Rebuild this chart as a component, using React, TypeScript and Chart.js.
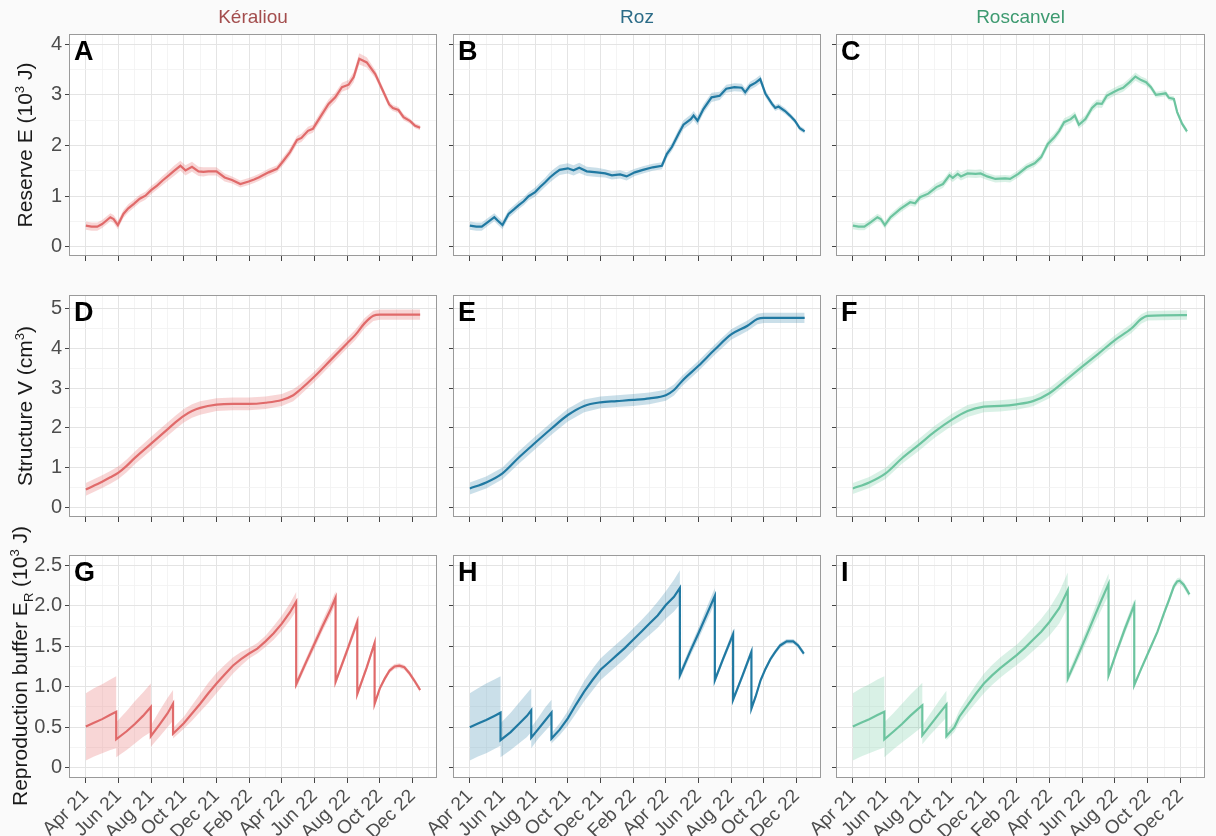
import React, { useEffect, useRef } from "react";
import { Chart, registerables } from "chart.js";
Chart.register(...registerables);

// x values = months since 1 April 2021
const tickMonths = [0, 2, 4, 6, 8, 10, 12, 14, 16, 18, 20];
const tickLabels = ["Apr 21", "Jun 21", "Aug 21", "Oct 21", "Dec 21", "Feb 22", "Apr 22", "Jun 22", "Aug 22", "Oct 22", "Dec 22"];
const sites = ["Kéraliou", "Roz", "Roscanvel"];
const siteLine = ["#e06a6a", "#2079a2", "#6cc49f"];
const siteRibbon = ["rgba(232,120,120,0.3)", "rgba(60,135,175,0.27)", "rgba(110,200,160,0.26)"];
const siteTitle = ["#a34d4d", "#2b6b87", "#3d9a70"];
const panelLetters = ["A", "B", "C", "D", "E", "F", "G", "H", "I"];

// Row 1: reserve E (10^3 J) : [month, mean, half-band]
const reserveKeraliou = [
  [0, 0.42, 0.08], [0.35, 0.40, 0.08], [0.7, 0.40, 0.08], [1.0, 0.45, 0.08], [1.3, 0.53, 0.08], [1.5, 0.585, 0.08],
  [1.7, 0.55, 0.08], [1.96, 0.43, 0.08], [2.3, 0.65, 0.08], [2.6, 0.76, 0.08], [2.94, 0.85, 0.08], [3.3, 0.95, 0.08],
  [3.65, 1.01, 0.08], [4.0, 1.12, 0.08], [4.36, 1.21, 0.08], [4.7, 1.31, 0.09], [5.08, 1.41, 0.09], [5.4, 1.50, 0.1],
  [5.79, 1.60, 0.1], [6.1, 1.51, 0.1], [6.5, 1.58, 0.1], [6.9, 1.49, 0.09], [7.2, 1.48, 0.09], [7.5, 1.49, 0.08],
  [8.0, 1.49, 0.08], [8.5, 1.37, 0.08], [8.95, 1.32, 0.07], [9.46, 1.24, 0.07], [9.97, 1.29, 0.07], [10.3, 1.33, 0.07],
  [10.58, 1.37, 0.07], [11.19, 1.47, 0.07], [11.7, 1.54, 0.07], [12.1, 1.70, 0.08], [12.5, 1.87, 0.08], [12.93, 2.11, 0.08],
  [13.2, 2.15, 0.08], [13.6, 2.29, 0.08], [13.9, 2.33, 0.08], [14.35, 2.56, 0.09], [14.86, 2.82, 0.09], [15.27, 2.95, 0.09],
  [15.68, 3.15, 0.09], [16.09, 3.20, 0.09], [16.4, 3.35, 0.1], [16.74, 3.71, 0.11], [17.2, 3.64, 0.1], [17.72, 3.41, 0.08],
  [18.23, 3.05, 0.07], [18.57, 2.81, 0.07], [18.8, 2.74, 0.06], [19.14, 2.70, 0.06], [19.45, 2.56, 0.06], [19.86, 2.48, 0.05],
  [20.16, 2.39, 0.05], [20.47, 2.35, 0.05],
];
const reserveRoz = [
  [0, 0.42, 0.08], [0.4, 0.40, 0.08], [0.73, 0.40, 0.08], [1.1, 0.49, 0.08], [1.5, 0.585, 0.08], [1.7, 0.52, 0.08],
  [2.0, 0.43, 0.08], [2.37, 0.65, 0.08], [2.7, 0.74, 0.08], [2.98, 0.82, 0.08], [3.3, 0.90, 0.08], [3.6, 1.00, 0.08],
  [4.0, 1.08, 0.09], [4.3, 1.18, 0.09], [4.6, 1.27, 0.09], [4.9, 1.37, 0.1], [5.2, 1.45, 0.1], [5.5, 1.52, 0.1],
  [6.0, 1.55, 0.1], [6.35, 1.51, 0.1], [6.7, 1.56, 0.1], [7.16, 1.49, 0.09], [7.78, 1.47, 0.09], [8.29, 1.45, 0.08],
  [8.7, 1.41, 0.08], [9.2, 1.43, 0.08], [9.6, 1.39, 0.08], [10.1, 1.47, 0.07], [10.6, 1.52, 0.07], [11.2, 1.57, 0.07],
  [11.76, 1.60, 0.07], [12.06, 1.83, 0.08], [12.37, 1.97, 0.08], [12.78, 2.23, 0.09], [13.08, 2.41, 0.09], [13.53, 2.52, 0.09],
  [13.7, 2.59, 0.09], [13.94, 2.49, 0.09], [14.3, 2.72, 0.09], [14.8, 2.95, 0.09], [15.3, 2.98, 0.08], [15.7, 3.12, 0.08],
  [16.2, 3.15, 0.08], [16.65, 3.14, 0.08], [16.86, 3.05, 0.08], [17.16, 3.18, 0.08], [17.5, 3.24, 0.08], [17.78, 3.31, 0.08],
  [18.1, 3.02, 0.07], [18.5, 2.82, 0.06], [18.7, 2.74, 0.06], [18.9, 2.77, 0.06], [19.3, 2.68, 0.06], [19.6, 2.59, 0.05],
  [19.9, 2.49, 0.05], [20.2, 2.34, 0.05], [20.5, 2.28, 0.05],
];
const reserveRoscanvel = [
  [0, 0.42, 0.07], [0.35, 0.40, 0.07], [0.7, 0.40, 0.07], [1.1, 0.49, 0.07], [1.5, 0.585, 0.07], [1.7, 0.55, 0.07],
  [1.95, 0.43, 0.07], [2.3, 0.585, 0.07], [2.9, 0.75, 0.07], [3.5, 0.88, 0.07], [3.8, 0.86, 0.07], [4.1, 0.98, 0.07],
  [4.6, 1.05, 0.07], [5.1, 1.18, 0.08], [5.5, 1.24, 0.08], [5.9, 1.41, 0.08], [6.1, 1.36, 0.08], [6.4, 1.44, 0.08],
  [6.6, 1.39, 0.08], [7.0, 1.45, 0.08], [7.5, 1.44, 0.08], [7.8, 1.45, 0.08], [8.2, 1.39, 0.07], [8.7, 1.34, 0.07],
  [9.3, 1.35, 0.07], [9.6, 1.34, 0.07], [10.1, 1.44, 0.07], [10.6, 1.57, 0.07], [11.1, 1.65, 0.07], [11.5, 1.77, 0.07],
  [11.9, 2.03, 0.08], [12.3, 2.16, 0.08], [12.6, 2.29, 0.08], [12.9, 2.46, 0.08], [13.3, 2.52, 0.08], [13.55, 2.59, 0.08],
  [13.8, 2.41, 0.08], [14.2, 2.52, 0.08], [14.6, 2.74, 0.08], [14.9, 2.83, 0.08], [15.2, 2.82, 0.08], [15.5, 2.98, 0.08],
  [15.9, 3.05, 0.08], [16.2, 3.10, 0.08], [16.5, 3.14, 0.08], [16.9, 3.25, 0.08], [17.25, 3.36, 0.08], [17.6, 3.29, 0.07],
  [17.9, 3.25, 0.07], [18.2, 3.15, 0.06], [18.5, 3.00, 0.06], [18.9, 3.02, 0.06], [19.1, 3.03, 0.06], [19.3, 2.94, 0.05],
  [19.6, 2.92, 0.05], [19.8, 2.66, 0.05], [20.1, 2.43, 0.05], [20.4, 2.28, 0.05],
];

// Row 2: structure V (cm^3) : [month, mean, half-band]
const structureKeraliou = [
  [0, 0.445, 0.16], [1, 0.64, 0.16], [1.5, 0.75, 0.16], [2, 0.87, 0.16], [2.5, 1.04, 0.16], [3, 1.24, 0.16],
  [4, 1.60, 0.17], [5, 1.96, 0.17], [5.5, 2.14, 0.17], [6, 2.30, 0.17], [6.5, 2.42, 0.17], [7, 2.50, 0.17],
  [8, 2.58, 0.16], [9, 2.6, 0.16], [10, 2.6, 0.16], [11, 2.63, 0.16], [12, 2.70, 0.15], [12.7, 2.82, 0.15],
  [13.1, 2.95, 0.14], [14, 3.29, 0.13], [15, 3.71, 0.13], [16, 4.13, 0.13], [16.5, 4.34, 0.13], [17.06, 4.63, 0.13],
  [17.6, 4.82, 0.13], [18, 4.85, 0.13], [20.47, 4.85, 0.13],
];
const structureRoz = [
  [0, 0.47, 0.15], [1, 0.62, 0.15], [2, 0.85, 0.15], [3, 1.25, 0.16], [4, 1.62, 0.16], [5, 1.98, 0.16],
  [6, 2.32, 0.16], [7, 2.55, 0.16], [8, 2.64, 0.15], [9, 2.67, 0.15], [10, 2.70, 0.15], [11, 2.74, 0.15],
  [12, 2.82, 0.14], [12.5, 2.95, 0.14], [13, 3.18, 0.13], [14, 3.56, 0.13], [15, 3.97, 0.13], [16, 4.35, 0.13],
  [17, 4.57, 0.13], [17.6, 4.74, 0.13], [18, 4.77, 0.13], [20.5, 4.77, 0.13],
];
const structureRoscanvel = [
  [0, 0.47, 0.14], [1, 0.62, 0.14], [2, 0.85, 0.14], [3, 1.23, 0.14], [4, 1.56, 0.15], [5, 1.90, 0.15],
  [6, 2.19, 0.15], [7, 2.42, 0.15], [8, 2.53, 0.14], [9, 2.55, 0.14], [10, 2.59, 0.14], [11, 2.67, 0.13],
  [12, 2.87, 0.13], [13, 3.20, 0.12], [14, 3.54, 0.12], [15, 3.87, 0.12], [16, 4.21, 0.12], [17, 4.50, 0.12],
  [17.6, 4.74, 0.12], [18, 4.82, 0.12], [20.4, 4.84, 0.12],
];

// Row 3: reproduction buffer E_R (10^3 J) : [month, mean, lower, upper]
const bufferKeraliou = [
  [0, 0.51, 0.09, 0.92], [0.5, 0.555, 0.14, 0.98], [1.0, 0.60, 0.18, 1.03], [1.5, 0.655, 0.22, 1.09], [1.86, 0.69, 0.24, 1.13],
  [1.86, 0.35, 0.13, 0.56], [2.5, 0.45, 0.22, 0.70], [3.0, 0.54, 0.30, 0.82], [3.5, 0.64, 0.38, 0.93], [3.98, 0.75, 0.44, 1.04],
  [3.98, 0.39, 0.26, 0.52], [4.5, 0.53, 0.38, 0.70], [5.0, 0.67, 0.50, 0.86], [5.34, 0.79, 0.58, 0.96],
  [5.34, 0.42, 0.36, 0.49], [6.0, 0.55, 0.48, 0.63], [6.5, 0.67, 0.58, 0.77], [7.0, 0.79, 0.69, 0.91], [7.5, 0.92, 0.80, 1.05],
  [8.0, 1.04, 0.92, 1.17], [8.5, 1.15, 1.04, 1.27], [9.0, 1.26, 1.16, 1.36], [9.5, 1.34, 1.26, 1.43], [10.0, 1.41, 1.35, 1.48],
  [10.5, 1.47, 1.41, 1.54], [11.0, 1.56, 1.49, 1.63], [11.5, 1.66, 1.58, 1.75], [12.0, 1.78, 1.69, 1.88], [12.5, 1.92, 1.82, 2.03],
  [12.88, 2.05, 1.94, 2.17],
  [12.88, 1.03, 0.98, 1.08], [13.5, 1.31, 1.26, 1.36], [14.0, 1.53, 1.47, 1.59], [14.5, 1.75, 1.69, 1.82], [15.0, 1.96, 1.89, 2.04],
  [15.29, 2.10, 2.02, 2.18],
  [15.29, 1.06, 1.02, 1.10], [16.0, 1.45, 1.40, 1.50], [16.62, 1.80, 1.74, 1.86],
  [16.62, 0.91, 0.88, 0.95], [17.2, 1.24, 1.20, 1.28], [17.68, 1.54, 1.50, 1.58],
  [17.68, 0.79, 0.76, 0.82], [18.0, 0.98, 0.95, 1.01], [18.3, 1.10, 1.07, 1.13], [18.6, 1.20, 1.17, 1.23], [18.9, 1.25, 1.22, 1.28],
  [19.2, 1.26, 1.23, 1.29], [19.5, 1.24, 1.21, 1.27], [19.8, 1.17, 1.14, 1.20], [20.1, 1.08, 1.05, 1.11], [20.47, 0.96, 0.93, 0.99],
];
const bufferRoz = [
  [0, 0.50, 0.09, 0.92], [0.5, 0.545, 0.14, 0.98], [1.0, 0.59, 0.18, 1.04], [1.5, 0.64, 0.23, 1.09], [1.88, 0.68, 0.27, 1.13],
  [1.88, 0.34, 0.13, 0.55], [2.5, 0.44, 0.22, 0.68], [3.0, 0.54, 0.30, 0.80], [3.5, 0.64, 0.38, 0.92], [3.76, 0.71, 0.44, 0.98],
  [3.76, 0.37, 0.24, 0.50], [4.2, 0.48, 0.36, 0.62], [4.6, 0.58, 0.45, 0.74], [5.0, 0.68, 0.54, 0.84],
  [5.0, 0.36, 0.30, 0.43], [5.5, 0.47, 0.40, 0.55], [6.0, 0.61, 0.52, 0.70], [6.5, 0.78, 0.67, 0.89], [7.0, 0.94, 0.82, 1.07],
  [7.5, 1.08, 0.95, 1.22], [8.0, 1.21, 1.08, 1.35], [8.5, 1.30, 1.17, 1.44], [9.0, 1.39, 1.26, 1.53], [9.5, 1.48, 1.35, 1.62],
  [10.0, 1.58, 1.45, 1.72], [10.5, 1.68, 1.55, 1.82], [11.0, 1.78, 1.64, 1.93], [11.5, 1.88, 1.73, 2.05], [12.0, 2.01, 1.84, 2.18],
  [12.5, 2.11, 1.93, 2.32], [12.86, 2.22, 2.02, 2.44],
  [12.86, 1.14, 1.09, 1.19], [13.5, 1.44, 1.38, 1.50], [14.0, 1.66, 1.59, 1.73], [14.5, 1.89, 1.81, 1.98], [15.0, 2.12, 2.03, 2.22],
  [15.0, 1.08, 1.05, 1.12], [15.5, 1.34, 1.30, 1.38], [16.12, 1.65, 1.60, 1.71],
  [16.12, 0.84, 0.81, 0.87], [16.7, 1.14, 1.10, 1.18], [17.24, 1.43, 1.38, 1.48],
  [17.24, 0.73, 0.70, 0.76], [17.5, 0.88, 0.85, 0.91], [17.8, 1.08, 1.05, 1.11], [18.1, 1.22, 1.19, 1.25], [18.4, 1.34, 1.31, 1.37],
  [18.7, 1.43, 1.40, 1.46], [19.0, 1.51, 1.48, 1.54], [19.4, 1.56, 1.53, 1.59], [19.8, 1.56, 1.53, 1.59], [20.1, 1.51, 1.48, 1.54],
  [20.45, 1.41, 1.38, 1.44],
];
const bufferRoscanvel = [
  [0, 0.51, 0.09, 0.92], [0.5, 0.555, 0.14, 0.98], [1.0, 0.60, 0.18, 1.03], [1.5, 0.65, 0.22, 1.09], [1.92, 0.69, 0.25, 1.13],
  [1.92, 0.35, 0.13, 0.56], [2.5, 0.45, 0.23, 0.68], [3.0, 0.54, 0.31, 0.79], [3.5, 0.64, 0.39, 0.90], [4.0, 0.73, 0.47, 1.00],
  [4.24, 0.77, 0.51, 1.05],
  [4.24, 0.40, 0.29, 0.52], [4.7, 0.52, 0.40, 0.66], [5.2, 0.65, 0.51, 0.81], [5.71, 0.78, 0.62, 0.95],
  [5.71, 0.39, 0.34, 0.45], [6.2, 0.50, 0.44, 0.57], [6.5, 0.63, 0.55, 0.71], [7.0, 0.77, 0.68, 0.87], [7.5, 0.91, 0.80, 1.02],
  [8.0, 1.04, 0.92, 1.16], [8.5, 1.14, 1.02, 1.27], [9.0, 1.23, 1.11, 1.36], [9.5, 1.31, 1.19, 1.44], [10.0, 1.39, 1.27, 1.52],
  [10.5, 1.48, 1.35, 1.62], [11.0, 1.58, 1.44, 1.73], [11.5, 1.68, 1.53, 1.84], [12.0, 1.80, 1.63, 1.97], [12.6, 1.97, 1.78, 2.17],
  [13.12, 2.19, 1.98, 2.41],
  [13.12, 1.10, 1.05, 1.16], [13.6, 1.32, 1.26, 1.39], [14.2, 1.60, 1.52, 1.68], [14.8, 1.89, 1.79, 1.99], [15.2, 2.08, 1.96, 2.20],
  [15.61, 2.27, 2.13, 2.40],
  [15.61, 1.14, 1.10, 1.18], [16.1, 1.43, 1.38, 1.48], [16.6, 1.71, 1.65, 1.77], [17.18, 2.01, 1.94, 2.08],
  [17.18, 1.02, 0.99, 1.05], [17.6, 1.22, 1.19, 1.25], [18.1, 1.45, 1.42, 1.48], [18.6, 1.68, 1.65, 1.71], [19.0, 1.91, 1.88, 1.95],
  [19.3, 2.07, 2.03, 2.11], [19.6, 2.24, 2.20, 2.28], [19.8, 2.30, 2.26, 2.34], [19.95, 2.31, 2.27, 2.35], [20.2, 2.26, 2.22, 2.30],
  [20.55, 2.14, 2.10, 2.18],
];

const rowSeries = [
  [reserveKeraliou, reserveRoz, reserveRoscanvel],
  [structureKeraliou, structureRoz, structureRoscanvel],
  [bufferKeraliou, bufferRoz, bufferRoscanvel],
];
const rowAxes = [
  { min: -0.18, max: 4.2, major: 1, minor: 0.5, dec: 0 },
  { min: -0.25, max: 5.345, major: 1, minor: 0.5, dec: 0 },
  { min: -0.127, max: 2.627, major: 0.5, minor: 0.25, dec: 1 },
];
const X_MIN = -1.03;
const X_MAX = 21.5;

// layout (page pixels)
const COLS = [{ L: 69, R: 437 }, { L: 453, R: 821 }, { L: 836, R: 1205 }];
const ROWS = [{ T: 34, B: 256 }, { T: 295, B: 517 }, { T: 555, B: 778 }];
const FONT = "'Liberation Sans', Arial, Helvetica, sans-serif";

const framePlugin = {
  id: "frame",
  beforeDraw(chart: any) {
    const { ctx, chartArea: a } = chart;
    ctx.save();
    ctx.fillStyle = "#ffffff";
    ctx.fillRect(a.left, a.top, a.right - a.left, a.bottom - a.top);
    ctx.restore();
  },
  afterDraw(chart: any) {
    const { ctx, chartArea: a } = chart;
    ctx.save();
    ctx.strokeStyle = "#9a9a9a";
    ctx.lineWidth = 1;
    ctx.strokeRect(Math.round(a.left) + 0.5, Math.round(a.top) + 0.5, Math.round(a.right - a.left) - 1, Math.round(a.bottom - a.top) - 1);
    ctx.restore();
  },
};

function isMajor(v: number, step: number) {
  const r = v / step;
  return Math.abs(r - Math.round(r)) < 1e-6;
}

function Panel({ row, col }: { row: number; col: number }) {
  const ref = useRef<HTMLCanvasElement>(null);
  const padL = col === 0 ? 60 : 44;
  const padR = 16;
  const padT = 16;
  const padB = row === 2 ? 58 : 20;
  const { L, R } = COLS[col];
  const { T, B } = ROWS[row];
  const w = R - L + padL + padR;
  const h = B - T + padT + padB;

  useEffect(() => {
    const series = rowSeries[row][col];
    const ax = rowAxes[row];
    const mean = series.map((p) => ({ x: p[0], y: p[1] }));
    const lower = series.map((p) => ({ x: p[0], y: p.length > 3 ? p[2] : p[1] - p[2] }));
    const upper = series.map((p) => ({ x: p[0], y: p.length > 3 ? p[3] : p[1] + p[2] }));
    const showX = row === 2;
    const showY = col === 0;

    const chart = new Chart(ref.current as HTMLCanvasElement, {
      type: "line",
      data: {
        datasets: [
          {
            data: mean,
            borderColor: siteLine[col],
            borderWidth: 2.2,
            pointRadius: 0,
            fill: false,
            tension: 0,
            cubicInterpolationMode: row === 1 ? "monotone" : "default",
          } as any,
          { data: lower, borderWidth: 0, borderColor: "rgba(0,0,0,0)", pointRadius: 0, fill: false, tension: 0 },
          { data: upper, borderWidth: 0, borderColor: "rgba(0,0,0,0)", pointRadius: 0, fill: "-1", backgroundColor: siteRibbon[col], tension: 0 },
        ],
      },
      options: {
        animation: false,
        responsive: false,
        events: [],
        layout: { padding: { top: padT, right: padR, left: 0, bottom: 0 } },
        plugins: { legend: { display: false }, tooltip: { enabled: false }, filler: { propagate: false } },
        scales: {
          x: {
            type: "linear",
            min: X_MIN,
            max: X_MAX,
            afterBuildTicks: (s: any) => {
              const t = [];
              for (let m = -1; m <= 21; m++) t.push({ value: m });
              s.ticks = t;
            },
            afterFit: (s: any) => {
              s.height = padB;
            },
            border: { display: false },
            grid: {
              color: (c: any) => (c.tick && isMajor(c.tick.value, 2) ? "#e4e4e4" : "#f1f1f1"),
              lineWidth: (c: any) => (c.tick && isMajor(c.tick.value, 2) ? 1 : 0.8),
              drawTicks: true,
              tickLength: 5,
              tickColor: (c: any) =>
                c.tick && tickMonths.indexOf(c.tick.value) >= 0 ? "#444444" : "rgba(0,0,0,0)",
            },
            ticks: {
              display: showX,
              autoSkip: false,
              maxRotation: 45,
              minRotation: 45,
              padding: 2,
              color: "#4d4d4d",
              font: { family: FONT, size: 19 },
              callback: (v: any) => {
                const i = tickMonths.indexOf(Number(v));
                return i >= 0 ? tickLabels[i] : "";
              },
            },
          },
          y: {
            type: "linear",
            min: ax.min,
            max: ax.max,
            afterBuildTicks: (s: any) => {
              const t = [];
              const start = Math.ceil(ax.min / ax.minor);
              const end = Math.floor(ax.max / ax.minor);
              for (let k = start; k <= end; k++) t.push({ value: Math.round(k * ax.minor * 1000) / 1000 });
              s.ticks = t;
            },
            afterFit: (s: any) => {
              s.width = padL;
            },
            border: { display: false },
            grid: {
              color: (c: any) => (c.tick && isMajor(c.tick.value, ax.major) ? "#e4e4e4" : "#f1f1f1"),
              lineWidth: (c: any) => (c.tick && isMajor(c.tick.value, ax.major) ? 1 : 0.8),
              drawTicks: true,
              tickLength: 4,
              tickColor: (c: any) => (c.tick && isMajor(c.tick.value, ax.major) ? "#444444" : "rgba(0,0,0,0)"),
            },
            ticks: {
              display: showY,
              autoSkip: false,
              padding: 3,
              color: "#4d4d4d",
              font: { family: FONT, size: 20 },
              callback: (v: any) => {
                const n = Number(v);
                if (!isMajor(n, ax.major)) return "";
                return n === 0 ? "0" : n.toFixed(ax.dec);
              },
            },
          },
        },
      },
      plugins: [framePlugin],
    } as any);
    return () => chart.destroy();
  }, []);

  return (
    <canvas
      ref={ref}
      width={w}
      height={h}
      style={{ position: "absolute", left: L - padL, top: T - padT, width: w, height: h }}
    />
  );
}

const rotTitle = (cy: number): React.CSSProperties => ({
  position: "absolute",
  left: 22,
  top: cy,
  transform: "translate(-50%, -50%) rotate(-90deg)",
  whiteSpace: "nowrap",
  fontFamily: FONT,
  fontSize: 21,
  color: "#1a1a1a",
  lineHeight: "24px",
});

export default function App() {
  return (
    <div style={{ position: "absolute", left: 0, top: 0, width: 1216, height: 836, background: "#fafafa", overflow: "hidden" }}>
      {ROWS.map((_, r) => COLS.map((__, c) => <Panel key={`${r}-${c}`} row={r} col={c} />))}
      {sites.map((s, c) => (
        <div
          key={s}
          style={{
            position: "absolute",
            left: (COLS[c].L + COLS[c].R) / 2,
            top: 17,
            transform: "translate(-50%, -50%)",
            fontFamily: FONT,
            fontSize: 19,
            color: siteTitle[c],
            whiteSpace: "nowrap",
          }}
        >
          {s}
        </div>
      ))}
      {ROWS.map((rw, r) =>
        COLS.map((cl, c) => (
          <div
            key={`L${r}${c}`}
            style={{
              position: "absolute",
              left: cl.L + 5,
              top: rw.T + 4,
              fontFamily: FONT,
              fontWeight: "bold",
              fontSize: 27,
              lineHeight: "27px",
              color: "#000",
            }}
          >
            {panelLetters[r * 3 + c]}
          </div>
        ))
      )}
      <div style={rotTitle(145)}>
        Reserve E (10<sup style={{ fontSize: 13 }}>3</sup> J)
      </div>
      <div style={rotTitle(406)}>
        Structure V (cm<sup style={{ fontSize: 13 }}>3</sup>)
      </div>
      <div style={rotTitle(666)}>
        Reproduction buffer E<sub style={{ fontSize: 13 }}>R</sub> (10<sup style={{ fontSize: 13 }}>3</sup> J)
      </div>
    </div>
  );
}
